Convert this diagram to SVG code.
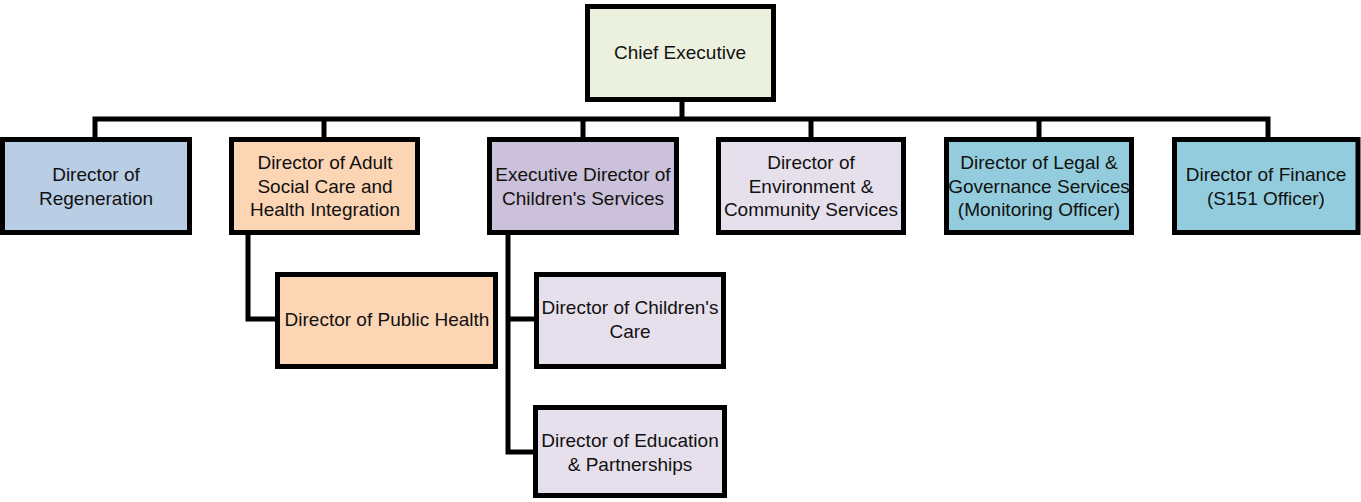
<svg xmlns="http://www.w3.org/2000/svg" width="1361" height="502" viewBox="0 0 1361 502">
<style>
.box{stroke:#000;stroke-width:5}
.lbl{font-family:"Liberation Sans",Arial,sans-serif;font-size:19px;fill:#111;text-anchor:middle}
.con{fill:none;stroke:#000;stroke-width:5;stroke-linejoin:miter}
</style>
<rect width="1361" height="502" fill="#fff"/>
<g id="connectors">
<path class="con" d="M682,102V119M95,137V119H1268V137M324,119V137M583,119V137M811,119V137M1039,119V137"/>
<path class="con" d="M248,235V319H275"/>
<path class="con" d="M508,235V452H534M508,319H534"/>
</g>
<g id="chief"><rect class="box" x="587.5" y="6.5" width="186" height="93" fill="#EBF1DE"/><text class="lbl" x="680" y="59">Chief Executive</text></g>
<g id="regeneration"><rect class="box" x="2.5" y="139.5" width="187" height="93" fill="#B9CDE5"/><text class="lbl" x="96" y="181">Director of</text><text class="lbl" x="96" y="205">Regeneration</text></g>
<g id="adult"><rect class="box" x="231.5" y="139.5" width="186" height="93" fill="#FCD5B5"/><text class="lbl" x="325" y="169">Director of Adult</text><text class="lbl" x="325" y="193">Social Care and</text><text class="lbl" x="325" y="216">Health Integration</text></g>
<g id="children"><rect class="box" x="489.5" y="139.5" width="187" height="93" fill="#CCC1DA"/><text class="lbl" x="583" y="181">Executive Director of</text><text class="lbl" x="583" y="205">Children's Services</text></g>
<g id="environment"><rect class="box" x="718.5" y="139.5" width="185" height="93" fill="#E6E0EC"/><text class="lbl" x="811" y="169">Director of</text><text class="lbl" x="811" y="193">Environment &amp;</text><text class="lbl" x="811" y="216">Community Services</text></g>
<g id="legal"><rect class="box" x="946.5" y="139.5" width="185" height="93" fill="#93CDDD"/><text class="lbl" x="1039" y="169">Director of Legal &amp;</text><text class="lbl" x="1039" y="193">Governance Services</text><text class="lbl" x="1039" y="216">(Monitoring Officer)</text></g>
<g id="finance"><rect class="box" x="1174.5" y="139.5" width="183.5" height="93" fill="#93CDDD"/><text class="lbl" x="1266" y="181">Director of Finance</text><text class="lbl" x="1266" y="205">(S151 Officer)</text></g>
<g id="publichealth"><rect class="box" x="277.5" y="274.5" width="218" height="92" fill="#FCD5B5"/><text class="lbl" x="387" y="326">Director of Public Health</text></g>
<g id="childrenscare"><rect class="box" x="536.5" y="274.5" width="187" height="92" fill="#E6E0EC"/><text class="lbl" x="630" y="314">Director of Children's</text><text class="lbl" x="630" y="338">Care</text></g>
<g id="education"><rect class="box" x="535.5" y="407.5" width="189" height="88" fill="#E6E0EC"/><text class="lbl" x="630" y="447">Director of Education</text><text class="lbl" x="630" y="471">&amp; Partnerships</text></g>
</svg>
